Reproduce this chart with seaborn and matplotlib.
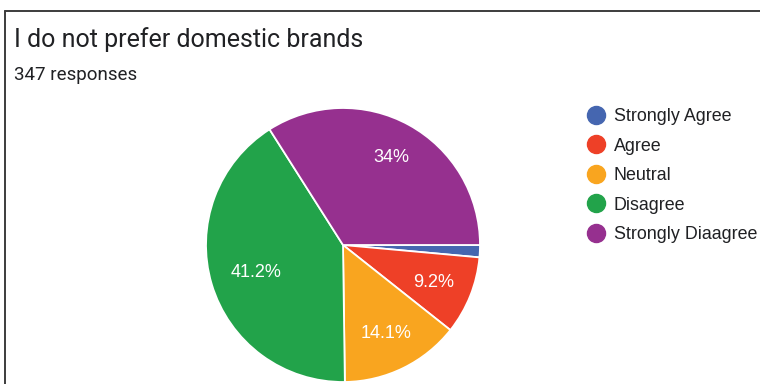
import matplotlib
matplotlib.use("Agg")
import numpy as np
import matplotlib.pyplot as plt
from matplotlib.lines import Line2D
import seaborn as sns

# Survey results
categories = ["Strongly Agree", "Agree", "Neutral", "Disagree", "Strongly Diaagree"]
counts = [5, 32, 49, 143, 118]
title = "I do not prefer domestic brands"
subtitle = "347 responses"

sns.set_theme(style="white")
palette = sns.color_palette(["#4566B0", "#EE4027", "#F9A51F", "#22A34A", "#96308F"])

W, H = 760, 384
fig = plt.figure(figsize=(W / 100, H / 100), dpi=100)
fig.patch.set_facecolor("white")

# Pie axes: centre (343, 245) px, radius 137 px
cx, cy, r = 343, 245, 137
ax = fig.add_axes([(cx - r) / W, (H - cy - r) / H, 2 * r / W, 2 * r / H])

def fmt(p):
    return "" if p < 5 else f"{p:.1f}%".replace(".0%", "%")

wedges, texts, autotexts = ax.pie(
    counts,
    colors=palette,
    startangle=0,
    counterclock=False,
    autopct=fmt,
    pctdistance=0.72,
    wedgeprops=dict(edgecolor="white", linewidth=1.3),
    textprops=dict(color="white", fontsize=13, family="Liberation Sans"),
)

# Label distance from centre, per slice
label_dist = [0.72, 0.71, 0.71, 0.66, 0.74]
for w, t, d in zip(wedges, autotexts, label_dist):
    mid = np.deg2rad((w.theta1 + w.theta2) / 2)
    t.set_position((d * np.cos(mid), d * np.sin(mid) - 0.012))

ax.set_xlim(-1.0, 1.0)
ax.set_ylim(-1.0, 1.0)
ax.set_aspect("equal")
ax.axis("off")

# Title and response count
fig.text(14 / W, 1 - 40 / H, title, fontsize=18, family="Roboto",
         color="#202124", va="center", ha="left")
fig.text(14 / W, 1 - 75 / H, subtitle, fontsize=13.5, family="Roboto",
         color="#202124", va="center", ha="left")

# Legend with round markers
handles = [Line2D([0], [0], marker="o", linestyle="", markersize=13,
                  markerfacecolor=c, markeredgecolor=c) for c in palette]
fig.legend(handles, categories, loc="upper left",
           bbox_to_anchor=(588 / W, 1 - 108 / H), frameon=False,
           prop=dict(family="Liberation Sans", size=12.9),
           handlelength=0.9, handletextpad=0.55, labelspacing=0.7,
           borderaxespad=0, borderpad=0, labelcolor="#202124")

# Card border (left and top edges)
fig.add_artist(Line2D([4.5 / W, 4.5 / W], [0, 1 - 10.5 / H],
                      transform=fig.transFigure, color="#3c3c3c", linewidth=1.4))
fig.add_artist(Line2D([4.5 / W, 1], [1 - 10.5 / H, 1 - 10.5 / H],
                      transform=fig.transFigure, color="#3c3c3c", linewidth=1.4))

fig.savefig("out.png", dpi=100, facecolor="white")
